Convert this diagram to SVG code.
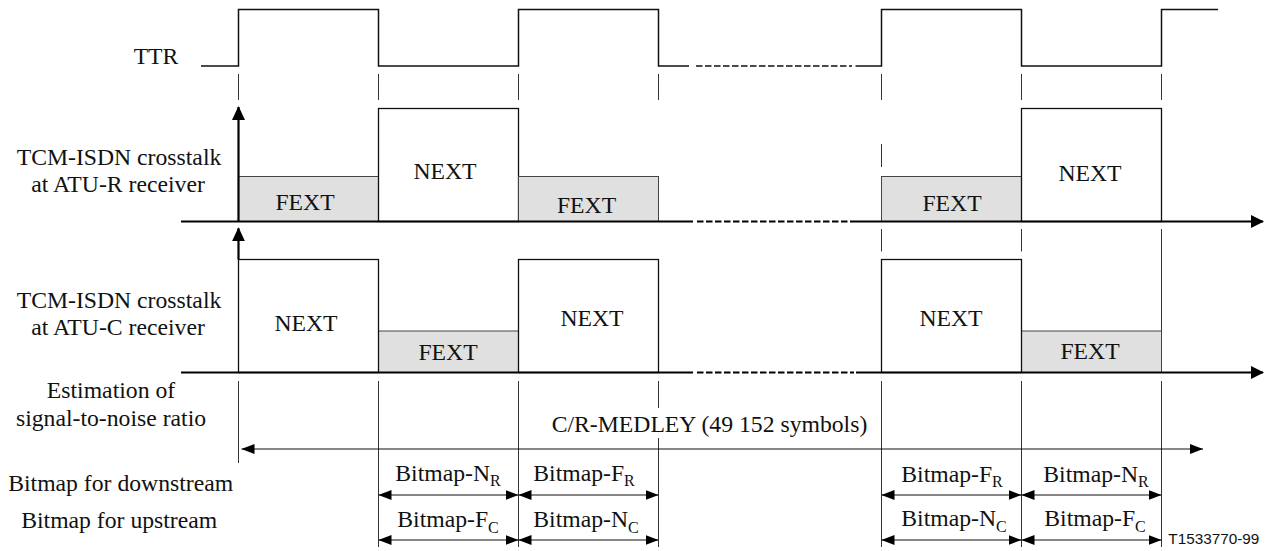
<svg xmlns="http://www.w3.org/2000/svg" width="1276" height="551" viewBox="0 0 1276 551">
<style>
.t{font-family:"Liberation Serif","DejaVu Serif",serif;font-size:23.7px;fill:#111}
.m{text-anchor:middle}
.sub{font-size:16px}
.code{font-family:"Liberation Sans",Arial,sans-serif;font-size:15.3px;fill:#111}
.sig{fill:none;stroke:#111;stroke-width:1.5}
.axis{fill:none;stroke:#000;stroke-width:2.2}
.dash{stroke-dasharray:6.5 2.5}
.guide{fill:none;stroke:#333;stroke-width:1}
.box{fill:#fff;stroke:#111;stroke-width:1.3}
.fext{fill:#e0e0e0;stroke:#444;stroke-width:1}
.dim{fill:none;stroke:#111;stroke-width:1}
</style>
<defs>
<marker id="axArr" markerUnits="userSpaceOnUse" viewBox="0 0 13 13" refX="12" refY="6.5" markerWidth="13" markerHeight="13" orient="auto"><path d="M0,0 L13,6.5 L0,13 z" fill="#000"/></marker>
<marker id="vArr" markerUnits="userSpaceOnUse" viewBox="0 0 14 13" refX="13" refY="6.5" markerWidth="14" markerHeight="13" orient="auto"><path d="M0,0 L14,6.5 L0,13 z" fill="#000"/></marker>
<marker id="dArr" markerUnits="userSpaceOnUse" viewBox="0 0 13 10" refX="13" refY="5" markerWidth="13" markerHeight="10" orient="auto-start-reverse"><path d="M0,0 L13,5 L0,10 z" fill="#000"/></marker>
</defs>

<g id="ttr">
<path class="sig" d="M201,66 H238.5 V9.5 H378.5 V66 H518.5 V9.5 H658.5 V66 H689"/>
<path class="sig dash" d="M696,66 H852"/>
<path class="sig" d="M855.5,66 H881.5 V9.5 H1021.5 V66 H1161.5 V9.5 H1218"/>
<text class="t m" x="156" y="64">TTR</text>
</g>

<g id="guides">
<path class="guide" d="M238.5,74 V100 M378.5,74 V100 M518.5,74 V100 M658.5,74 V100 M881.5,74 V100 M1021.5,74 V100 M1161.5,74 V100"/>
<path class="guide" d="M881.5,144 V167"/>
<path class="guide" d="M881.5,229 V251.5 M1021.5,229 V251.5 M1161.5,229 V331"/>
<path class="guide" d="M238.5,381 V463 M378.5,381 V547 M518.5,381 V547 M658.5,381 V408 M658.5,438 V547 M881.5,381 V547 M1021.5,381 V547 M1161.5,381 V547"/>
</g>

<g id="atu-r">
<rect class="fext" x="238.5" y="176.5" width="140" height="45"/>
<rect class="box" x="378.5" y="108.5" width="140" height="113"/>
<rect class="fext" x="518.5" y="176.5" width="140" height="45"/>
<rect class="fext" x="881.5" y="176.5" width="140" height="45"/>
<rect class="box" x="1021.5" y="108.5" width="140" height="113"/>
<text class="t m" x="305" y="210">FEXT</text>
<text class="t m" x="445" y="178.5">NEXT</text>
<text class="t m" x="586.5" y="213">FEXT</text>
<text class="t m" x="952" y="211">FEXT</text>
<text class="t m" x="1090" y="180.5">NEXT</text>
<text class="t m" x="119" y="165">TCM-ISDN crosstalk</text>
<text class="t m" x="118" y="191.5">at ATU-R receiver</text>
</g>

<g id="atu-c">
<rect class="fext" x="378.5" y="331" width="140" height="41.5"/>
<rect class="fext" x="1021.5" y="331" width="140" height="41.5"/>
<rect class="box" x="238.5" y="259.5" width="140" height="113"/>
<rect class="box" x="518.5" y="259.5" width="140" height="113"/>
<rect class="box" x="881.5" y="259.5" width="140" height="113"/>
<text class="t m" x="306" y="331">NEXT</text>
<text class="t m" x="448" y="360">FEXT</text>
<text class="t m" x="592" y="326">NEXT</text>
<text class="t m" x="951" y="326">NEXT</text>
<text class="t m" x="1090" y="359">FEXT</text>
<text class="t m" x="119" y="307.5">TCM-ISDN crosstalk</text>
<text class="t m" x="118" y="334.5">at ATU-C receiver</text>
</g>

<g id="estimation">
<text class="t m" x="111" y="398">Estimation of</text>
<text class="t m" x="111" y="426">signal-to-noise ratio</text>
<text class="t" x="551.7" y="431.5">C/R-MEDLEY (49 152 symbols)</text>
</g>

<g id="bitmaps">
<text class="t m" x="120.7" y="491">Bitmap for downstream</text>
<text class="t m" x="119.2" y="528">Bitmap for upstream</text>
<text class="t m" x="448" y="481">Bitmap-N<tspan class="sub" dy="5">R</tspan></text>
<text class="t m" x="584" y="481">Bitmap-F<tspan class="sub" dy="5">R</tspan></text>
<text class="t m" x="952" y="481.5">Bitmap-F<tspan class="sub" dy="5">R</tspan></text>
<text class="t m" x="1096" y="481.5">Bitmap-N<tspan class="sub" dy="5">R</tspan></text>
<text class="t m" x="448" y="526.5">Bitmap-F<tspan class="sub" dy="6">C</tspan></text>
<text class="t m" x="586" y="526.5">Bitmap-N<tspan class="sub" dy="6">C</tspan></text>
<text class="t m" x="954" y="526">Bitmap-N<tspan class="sub" dy="6">C</tspan></text>
<text class="t m" x="1095" y="526">Bitmap-F<tspan class="sub" dy="6">C</tspan></text>
</g>
<g id="figure-code">
<text class="code" x="1168.3" y="544">T1533770-99</text>
</g>

<g id="connectors">
<path class="axis" d="M181,221.5 H693"/>
<path class="axis dash" d="M697,221.5 H849"/>
<path class="axis" d="M850,221.5 H1263" marker-end="url(#axArr)"/>
<path class="axis" d="M181,372.5 H693"/>
<path class="axis dash" d="M697,372.5 H854"/>
<path class="axis" d="M856,372.5 H1263" marker-end="url(#axArr)"/>
<path class="axis" d="M238.5,221.5 V107" marker-end="url(#vArr)"/>
<path class="axis" d="M238.5,259.5 V228.3" marker-end="url(#vArr)"/>
<path class="dim" d="M241.5,449 H1203" marker-start="url(#dArr)" marker-end="url(#dArr)"/>
<path class="dim" d="M378.5,495 H518.5" marker-start="url(#dArr)" marker-end="url(#dArr)"/>
<path class="dim" d="M518.5,495 H658.5" marker-start="url(#dArr)" marker-end="url(#dArr)"/>
<path class="dim" d="M881.5,495 H1021.5" marker-start="url(#dArr)" marker-end="url(#dArr)"/>
<path class="dim" d="M1021.5,495 H1161.5" marker-start="url(#dArr)" marker-end="url(#dArr)"/>
<path class="dim" d="M378.5,540 H518.5" marker-start="url(#dArr)" marker-end="url(#dArr)"/>
<path class="dim" d="M518.5,540 H658.5" marker-start="url(#dArr)" marker-end="url(#dArr)"/>
<path class="dim" d="M881.5,540 H1021.5" marker-start="url(#dArr)" marker-end="url(#dArr)"/>
<path class="dim" d="M1021.5,540 H1161.5" marker-start="url(#dArr)" marker-end="url(#dArr)"/>
</g>
</svg>
